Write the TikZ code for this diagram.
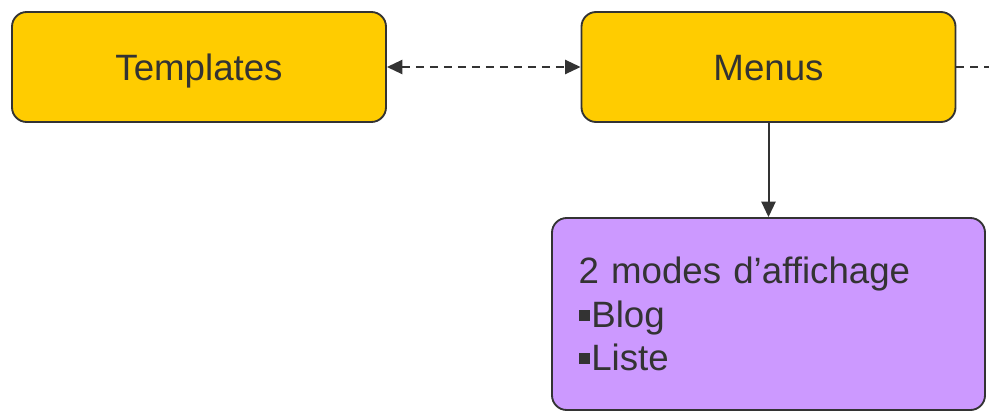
\documentclass[tikz,border=0pt]{standalone}
\usepackage{fontspec}
\setmainfont{Liberation Sans}
\usetikzlibrary{arrows.meta}

\definecolor{boxyellow}{HTML}{FFCC00}
\definecolor{boxpurple}{HTML}{CC99FF}
\definecolor{edgegray}{HTML}{333333}

\newcommand{\sqbullet}{\rule[0.17em]{0.3em}{0.3em}\kern0.05em}

\begin{document}
\begin{tikzpicture}[x=0.75pt,y=-0.75pt,
    box/.style={draw=edgegray,line width=1.4pt,rounded corners=11pt,
        font=\fontsize{27.5}{32.5}\selectfont,text=edgegray},
    topbox/.style={box,fill=boxyellow,minimum width=280.5pt,minimum height=82.5pt,
        text height=19.7pt,text depth=0pt},
    link/.style={draw=edgegray,line width=1.5pt,
        -{Triangle[length=11.5pt,width=10.5pt]}},
    dashlink/.style={link,dash pattern=on 6pt off 4.5pt}]
    \useasboundingbox (0,0) rectangle (989,414);
    \node[topbox] (templates) at (199,67) {Templates};
    \node[topbox] (menus) at (768.5,67) {Menus};
    \node[box,fill=boxpurple,minimum width=324.75pt,minimum height=144pt,
        text width=285pt,align=left] (modes) at (768.5,314)
        {2 modes d’affichage\\\sqbullet Blog\\\sqbullet Liste};
    \coordinate (rightend) at (992,67);
    % connectors
    \draw[dashlink,{Triangle[length=11.5pt,width=10.5pt]}-{Triangle[length=11.5pt,width=10.5pt]}]
        (templates) -- (menus);
    \draw[dashlink,-] (menus) -- (rightend);
    \draw[link] (menus) -- (modes);
\end{tikzpicture}
\end{document}
